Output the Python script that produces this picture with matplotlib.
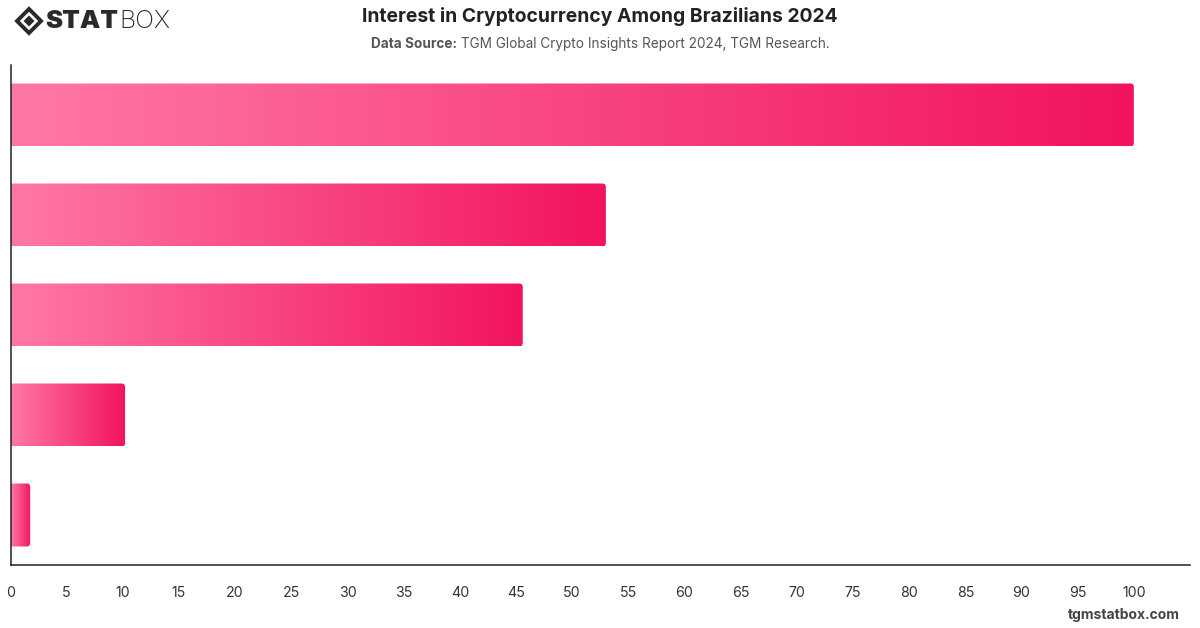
import matplotlib
matplotlib.use("Agg")
import matplotlib.pyplot as plt
import numpy as np
from matplotlib.patches import FancyBboxPatch, Polygon
from matplotlib.colors import LinearSegmentedColormap

plt.rcParams['font.family'] = ['Inter', 'DejaVu Sans']

categories = ["A", "B", "C", "D", "E"]
values = [100.0, 53.0, 45.6, 10.2, 1.75]
xticks = list(range(0, 101, 5))

title = "Interest in Cryptocurrency Among Brazilians 2024"
source_label = "Data Source:"
source_text = " TGM Global Crypto Insights Report 2024, TGM Research."

W, H = 1200, 628
fig = plt.figure(figsize=(W / 100, H / 100), dpi=100)
ax = fig.add_axes([10.5 / W, (H - 565) / H, (1190 - 10.5) / W, 500 / H])

cmap = LinearSegmentedColormap.from_list("pink", ["#ff78a5", "#f2135f"])
grad = np.linspace(0, 1, 256).reshape(1, -1)

ypos = np.arange(len(categories))
bars = ax.barh(ypos, values, height=0.63, color="none")
ax.set_xlim(0, 105.0)
ax.set_ylim(len(categories) - 0.5, -0.5)

px_x = (1190 - 10.5) / 105.0
px_y = 100.0
r = 3.5
rx = r / px_x
aspect = (r / px_y) / rx

for b in bars:
    x0, y0 = b.get_x(), b.get_y()
    w, h = b.get_width(), b.get_height()
    im = ax.imshow(grad, cmap=cmap, aspect="auto",
                   extent=[x0, x0 + w, y0 + h, y0], zorder=2,
                   interpolation="bicubic")
    clip = FancyBboxPatch((x0 - 2 * rx, y0), w + 2 * rx, h,
                          boxstyle=f"round,pad=0,rounding_size={rx}",
                          mutation_aspect=aspect,
                          transform=ax.transData, facecolor="none",
                          edgecolor="none")
    ax.add_patch(clip)
    im.set_clip_path(clip)

ax.set_xticks(xticks)
ax.set_xticklabels([str(t) for t in xticks])
ax.set_yticks([])
ax.tick_params(axis="x", length=0, pad=15, labelsize=10.2, labelcolor="#333333")
ax.get_xticklabels()[0].set_x(0.3)
for s in ["top", "right"]:
    ax.spines[s].set_visible(False)
for s in ["left", "bottom"]:
    ax.spines[s].set_color("#222222")
    ax.spines[s].set_linewidth(1.1)

# Title & subtitle
fig.text(600 / W, 1 - 17 / H, title, ha="center", va="center",
         fontsize=13.9, fontweight="bold", color="#222222")
fig.canvas.draw()
r_ = fig.canvas.get_renderer()
t1 = fig.text(0, 1 - 44 / H, source_label, ha="left", va="center",
              fontsize=9.8, fontweight="bold", color="#555555")
t2 = fig.text(0, 1 - 44 / H, source_text, ha="left", va="center",
              fontsize=9.8, color="#555555")
w1 = t1.get_window_extent(r_).width
w2 = t2.get_window_extent(r_).width
start = 600 - (w1 + w2) / 2
t1.set_x(start / W)
t2.set_x((start + w1) / W)

# Logo
cx, cy, s = 29, 21, 12
outer = Polygon([[(cx - s) / W, 1 - cy / H], [cx / W, 1 - (cy - s) / H],
                 [(cx + s) / W, 1 - cy / H], [cx / W, 1 - (cy + s) / H]],
                closed=True, transform=fig.transFigure, facecolor="none",
                edgecolor="#2a2a2a", linewidth=2.8)
si = 5.5
inner = Polygon([[(cx - si) / W, 1 - cy / H], [cx / W, 1 - (cy - si) / H],
                 [(cx + si) / W, 1 - cy / H], [cx / W, 1 - (cy + si) / H]],
                closed=True, transform=fig.transFigure, facecolor="#2a2a2a",
                edgecolor="none")
fig.patches.extend([outer, inner])
ts = fig.text(45 / W, 1 - 21 / H, "STAT", ha="left", va="center",
              fontsize=18.5, fontweight="black", color="#2a2a2a")
fig.canvas.draw()
wst = ts.get_window_extent(fig.canvas.get_renderer()).width
fig.text((45 + wst + 1) / W, 1 - 21 / H, "BOX", ha="left", va="center",
         fontsize=18, fontweight="light", color="#2a2a2a")

fig.text(1180 / W, 1 - 615 / H, "tgmstatbox.com", ha="right", va="center",
         fontsize=10, fontweight="bold", color="#444444")

fig.savefig("out.png", dpi=100)
